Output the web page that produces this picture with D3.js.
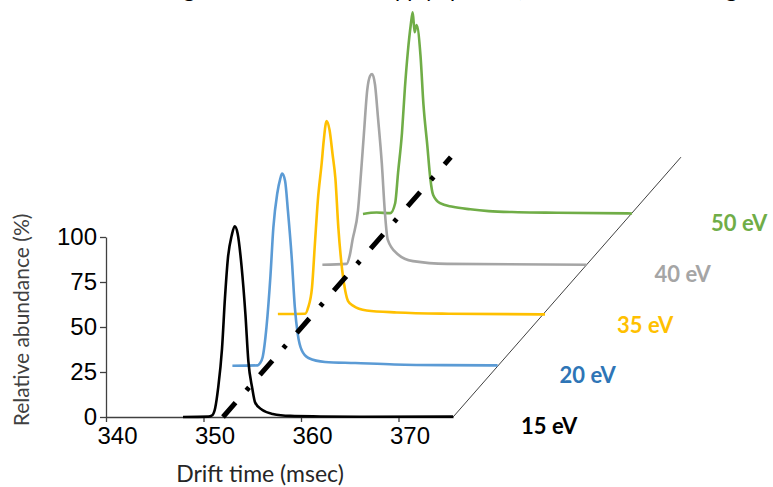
<!DOCTYPE html>
<html>
<head>
<meta charset="utf-8">
<script src="https://cdn.jsdelivr.net/npm/d3@7"></script>
<style>
  body{margin:0;background:#fff;}
  svg{display:block;}
</style>
</head>
<body>
<script>
// drift time (msec) vs relative abundance (%), one trace per collision energy
const energies=["15 eV","20 eV","35 eV","40 eV","50 eV"];
const lineColors=["#000000","#5B9BD5","#FFC000","#A5A5A5","#70AD47"];
const labelColors=["#000000","#2E75B6","#FFC000","#A5A5A5","#70AD47"];

const trace15=[[347.9,0],[350.5,0.2],[350.9,1],[351.2,5],[351.5,16],[351.9,38],[352.2,66],[352.5,88],[352.9,101],[353.2,106],[353.5,102],[353.9,84],[354.3,57],[354.6,31],[355.0,16],[355.3,8],[356.0,4],[357.1,1.7],[358.9,0.6],[362,0.3],[366,0.1],[375.6,0.2]];
const trace20=[[348.4,0.3],[351.0,0.5],[351.2,1.5],[351.5,5],[351.9,22],[352.3,50],[352.6,77],[353.0,96],[353.3,104],[353.5,107],[353.8,103],[354.1,86],[354.5,59],[354.8,33],[355.1,18],[355.5,9],[356.2,4.6],[357.9,2.4],[361.0,1.8],[365,1],[370,0.6],[375.6,0.5]];
const trace35=[[348.5,0.8],[351.3,1],[351.6,4.4],[352.0,15.5],[352.3,40],[352.6,64],[353.0,85],[353.2,97],[353.5,108],[353.8,103],[354.1,90],[354.4,76],[354.7,49],[355.1,25],[355.4,14],[355.7,8],[356.2,5.5],[357.6,2.8],[360.7,1.7],[366,1],[375.9,0.6]];
const trace40=[[348.5,0],[351.0,0.5],[351.3,5],[351.6,14],[352.15,30],[352.45,50],[352.75,72],[353.1,97],[353.4,105],[353.6,106],[353.9,100],[354.2,82],[354.6,56],[354.9,30],[355.2,14],[356.2,6],[357.8,2],[361.3,0.5],[375.6,0]];
const trace50=[[348.1,0],[349.5,0.8],[350.9,0.5],[351.4,6],[351.7,23],[352.1,45],[352.4,70],[352.7,90],[353.0,105],[353.2,112],[353.4,101],[353.6,105],[354.0,88],[354.3,61],[354.7,38],[355.0,20],[355.3,10.5],[356.0,6],[357.3,4],[359.1,2.6],[361,1.6],[364,1.0],[368,0.7],[375.7,0.3]];
const traces=[trace15,trace20,trace35,trace40,trace50];

const xTicks=[340,350,360,370];
const yTicks=[0,25,50,75,100];
const guideTime=352.0;      // dash-dot guide
const depthExtent=[0,5.12]; // back wall of the pseudo-3D floor
const xEnd=375.6;

const w=773, h=487;
const svg=d3.select("body").append("svg").attr("width",w).attr("height",h);

const xScale=d3.scaleLinear().domain([340,xEnd]).range([106,453.1]);
const yScale=d3.scaleLinear().domain([0,100]).range([417,237]);
// depth offset per trace step
const depthX=d3.scaleLinear().domain([0,1]).range([0,44.5]);
const depthY=d3.scaleLinear().domain([0,1]).range([0,-50.75]);

// caption line above the figure, cut off by the top edge
const cap=svg.append("text").attr("y",-3)
  .style("font-family","Lato, 'Open Sans', sans-serif").style("font-size","22px").attr("fill","#000");
cap.append("tspan").attr("x",195).attr("text-anchor","end").text("Overlaid arrival time distributions showing");
cap.append("tspan").attr("x",384).attr("text-anchor","start").text("apply");
cap.append("tspan").attr("x",450).attr("text-anchor","start").text("peak");
cap.append("tspan").attr("x",516).attr("text-anchor","start").text("(normalised to base, eg");

// floor diagonal
svg.append("line")
  .attr("x1",xScale(xEnd)+depthX(depthExtent[0])).attr("y1",yScale(0)+depthY(depthExtent[0]))
  .attr("x2",xScale(xEnd)+depthX(depthExtent[1])).attr("y2",yScale(0)+depthY(depthExtent[1]))
  .attr("stroke","#404040").attr("stroke-width",1);

// axes
const yAxis=d3.axisLeft(yScale).tickValues(yTicks).tickSize(6).tickSizeOuter(0).tickPadding(3);
const gy=svg.append("g").attr("transform",`translate(${xScale(340)},0)`).call(yAxis);
const xAxis=d3.axisBottom(xScale).tickValues(xTicks).tickSize(5).tickSizeOuter(0).tickPadding(5);
const gx=svg.append("g").attr("transform",`translate(0,${yScale(0)})`).call(xAxis);
[gx,gy].forEach(g=>{
  g.select(".domain").attr("stroke","#404040").attr("stroke-width",1.3);
  g.selectAll(".tick line").attr("stroke","#404040").attr("stroke-width",1.3);
  g.selectAll(".tick text").attr("fill","#000")
    .style("font-family","'Liberation Sans', Arial, sans-serif").style("font-size","24px");
});
gx.selectAll(".tick text").attr("dx",11);

// traces, back to front
const line=i=>d3.line()
  .x(d=>xScale(d[0])+depthX(i))
  .y(d=>yScale(d[1])+depthY(i))
  .curve(d3.curveMonotoneX);
d3.range(traces.length).reverse().forEach(i=>{
  svg.append("path")
    .datum(traces[i])
    .attr("d",line(i))
    .attr("fill","none")
    .attr("stroke",lineColors[i])
    .attr("stroke-width",2.6)
    .attr("stroke-linejoin","round");
});

// dash-dot guide
svg.append("line")
  .attr("x1",xScale(guideTime)+depthX(depthExtent[0])).attr("y1",yScale(0)+depthY(depthExtent[0]))
  .attr("x2",xScale(guideTime)+depthX(depthExtent[1])).attr("y2",yScale(0)+depthY(depthExtent[1]))
  .attr("stroke","#000").attr("stroke-width",5)
  .attr("stroke-dasharray","19,16.5,4,16.5");

// energy labels
const labelShift=[0,-6,7,0,12];
svg.selectAll("text.energy")
  .data(energies)
  .enter()
  .append("text")
  .attr("class","energy")
  .attr("x",(d,i)=>xScale(xEnd)+68+depthX(i)+labelShift[i])
  .attr("y",(d,i)=>yScale(0)+17+depthY(i))
  .attr("fill",(d,i)=>labelColors[i])
  .style("font-family","Lato, 'Open Sans', sans-serif")
  .style("font-weight","bold")
  .style("font-size","22px")
  .text(d=>d);

// axis titles
svg.append("text")
  .text("Drift time (msec)")
  .attr("x",260).attr("y",482)
  .attr("text-anchor","middle")
  .attr("fill","#262626")
  .style("font-family","Lato, 'Open Sans', sans-serif")
  .style("font-size","23px");
svg.append("text")
  .text("Relative abundance (%)")
  .attr("transform","translate(29,320) rotate(-90)")
  .attr("text-anchor","middle")
  .attr("fill","#404040")
  .style("font-family","Lato, 'Open Sans', sans-serif")
  .style("font-size","21px");
</script>
</body>
</html>
